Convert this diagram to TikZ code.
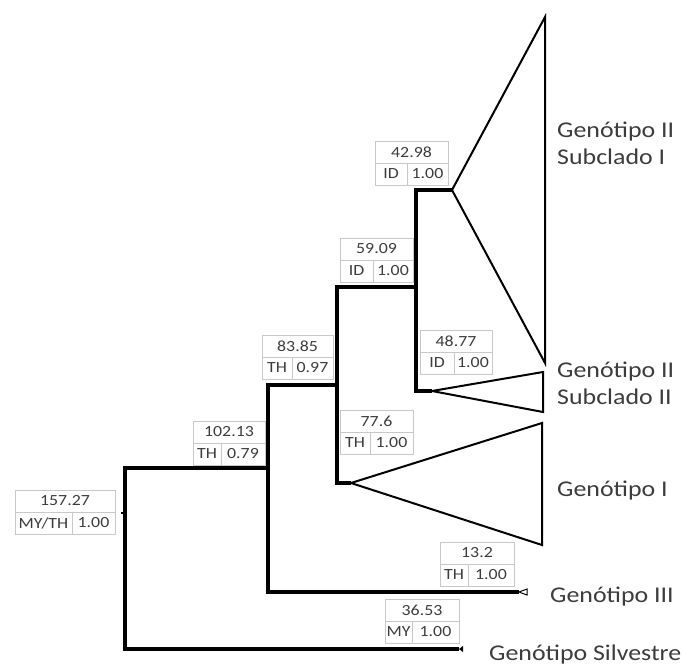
\documentclass[tikz,border=0pt]{standalone}
\usepackage{fontspec}
\setmainfont[FakeStretch=1.15]{Carlito}
\usetikzlibrary{calc}
\definecolor{cellgray}{HTML}{C8C8C8}
\definecolor{textgray}{HTML}{3C3C3C}
\tikzstyle{branch}=[line width=3.2pt]
\tikzstyle{clade}=[line width=2pt]
\tikzstyle{agecell}=[draw=cellgray, line width=0.9pt, inner sep=0pt, outer sep=0pt, minimum height=22pt, text=textgray, font=\fontsize{15.5}{15.5}\selectfont]
\tikzstyle{genolabel}=[anchor=base west, inner sep=0pt, align=left, text=textgray, font=\fontsize{22.5}{27}\selectfont]
\newcommand{\agebox}[7][72]{% Syntax: [box width]{code width}{name}{top left}{age}{code}{posterior}
\pgfmathsetmacro{\postw}{#1-#2}
\node[agecell, minimum width=#1pt, anchor=north west] (#3) at (#4) {#5};
\node[agecell, minimum width=#2pt, anchor=north west] (#3code) at (#3.south west) {#6};
\node[agecell, minimum width=\postw pt, anchor=north west] (#3post) at (#3code.north east) {#7};
}
\begin{document}
\begin{tikzpicture}[x=1pt,y=-1pt]
	\useasboundingbox (0,0) rectangle (683,665);
	% nodes of the tree
	\coordinate (n157) at (125,513);
	\coordinate (n102) at (268,468);
	\coordinate (n83) at (337,385);
	\coordinate (n59) at (416,287);
	\coordinate (a43) at (452,190);
	\coordinate (a49) at (432,391);
	\coordinate (a77) at (351,483);
	\coordinate (tipIII) at (519,592);
	\coordinate (tipS) at (459,649);
	% collapsed clades
	\coordinate (c1top) at (545,17);
	\coordinate (c1bot) at (545,363);
	\coordinate (c2top) at (543,372);
	\coordinate (c2bot) at (543,412);
	\coordinate (c3top) at (542,423);
	\coordinate (c3bot) at (542,545);
	\draw[branch] (n102) -| (n157) |- (tipS);
	\draw[branch] (n83) -| (n102) |- (tipIII);
	\draw[branch] (n59) -| (n83) |- (a77);
	\draw[branch] (a43) -| (n59) |- (a49);
	\draw[clade] (a43) -- (c1top) -- (c1bot) -- cycle;
	\draw[clade] (a49) -- (c2top) -- (c2bot) -- cycle;
	\draw[clade] (a77) -- (c3top) -- (c3bot) -- cycle;
	\draw[line width=1.5pt] (n157) -- ++(-4,0);
	\draw[line width=1pt, fill=white] (tipIII) -- ++(8,-3) -- ++(0,6) -- cycle;
	\fill (tipS) -- ++(4,-3) -- ++(0,6) -- cycle;
	% age / region / posterior boxes
	\agebox[100]{57}{b157}{15,490}{157.27}{MY/TH}{1.00}
	\agebox[72]{28}{b102}{193,421}{102.13}{TH}{0.79}
	\agebox[71]{30}{b83}{262,335}{83.85}{TH}{0.97}
	\agebox[73]{33}{b59}{340,238}{59.09}{ID}{1.00}
	\agebox[73]{32}{b43}{375,141}{42.98}{ID}{1.00}
	\agebox[72]{34}{b49}{420,330}{48.77}{ID}{1.00}
	\agebox[73]{30}{b77}{340,410}{77.6}{TH}{1.00}
	\agebox[74]{28}{b13}{440,542}{13.2}{TH}{1.00}
	\agebox[74]{27}{b36}{385,599}{36.53}{MY}{1.00}
	% genotype labels
	\node[genolabel] (gIIsI) at (557,164) {Genótipo II\\Subclado I};
	\node[genolabel] (gIIsII) at (557,404) {Genótipo II\\Subclado II};
	\node[genolabel] (gI) at (557,496) {Genótipo I};
	\node[genolabel] (gIII) at (550,602) {Genótipo III};
	\node[genolabel] (gS) at (489,660) {Genótipo Silvestre};
\end{tikzpicture}
\end{document}
